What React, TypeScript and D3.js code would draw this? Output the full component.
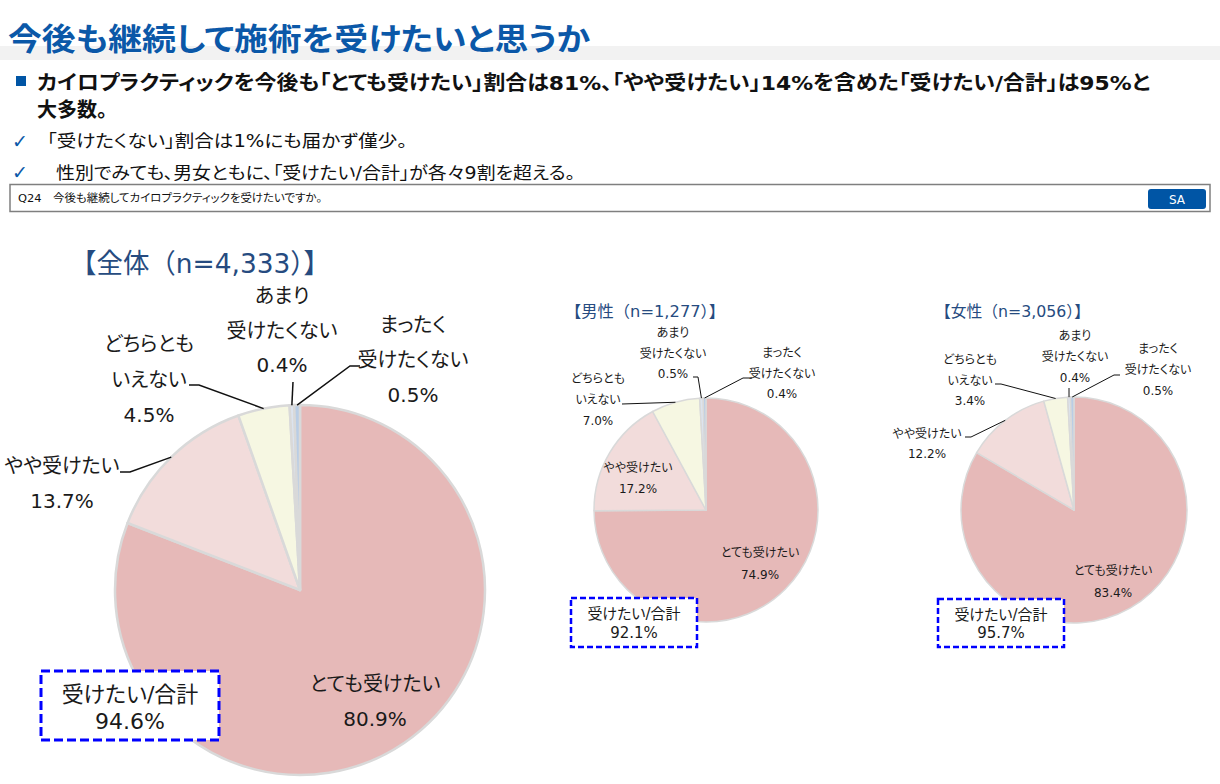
import React from "react";
import * as d3 from "d3";

// ---------- data ----------
const categories = ["とても受けたい", "やや受けたい", "どちらともいえない", "あまり受けたくない", "まったく受けたくない"];
const categoryLines = [["とても受けたい"], ["やや受けたい"], ["どちらとも", "いえない"], ["あまり", "受けたくない"], ["まったく", "受けたくない"]];
const totalValues = [80.9, 13.7, 4.5, 0.4, 0.5];
const maleValues = [74.9, 17.2, 7.0, 0.5, 0.4];
const femaleValues = [83.4, 12.2, 3.4, 0.4, 0.5];
const sumLabel = "受けたい/合計";
const sumValues = [94.6, 92.1, 95.7];
const groupTitles = ["【全体（n=4,333）】", "【男性（n=1,277）】", "【女性（n=3,056）】"];

const pageTitle = "今後も継続して施術を受けたいと思うか";
const headline1 = "カイロプラクティックを今後も「とても受けたい」割合は81%、「やや受けたい」14%を含めた「受けたい/合計」は95%と";
const headline2 = "大多数。";
const checks = ["「受けたくない」割合は1%にも届かず僅少。", "性別でみても、男女ともに、「受けたい/合計」が各々9割を超える。"];
const question = "Q24　今後も継続してカイロプラクティックを受けたいですか。";
const answerType = "SA";

// ---------- style / layout ----------
const sliceColors = ["#E6B9B8", "#F2DCDB", "#F6F7E2", "#DCE3EE", "#B9CDE5"];
const FONT = "'DejaVu Sans', 'Noto Sans CJK JP', sans-serif";
const JP = "'Noto Sans CJK JP', sans-serif";
const BLUE = "#0B58A8";
const TITLE_BLUE = "#264B80";

type LabelLayout = { x: number; y: number; dy: number; leader?: [number, number][] };
type PieLayout = {
  cx: number; cy: number; r: number; values: number[]; sliceStroke: number;
  title: { x: number; y: number; size: number; len: number };
  font: number; lineW: number;
  labels: LabelLayout[];
  box: { x: number; y: number; w: number; h: number; font: number; y1: number; y2: number; sw: number; dash: string };
};

const pies: PieLayout[] = [
  {
    cx: 300, cy: 590, r: 185, values: totalValues, sliceStroke: 2.5,
    title: { x: 70, y: 273, size: 27, len: 260 },
    font: 20, lineW: 1.5,
    labels: [
      { x: 375, y: 691, dy: 35 },
      { x: 62, y: 473, dy: 35, leader: [[120, 472], [130, 472]] },
      { x: 149, y: 351, dy: 35.5, leader: [[189, 385], [199, 385]] },
      { x: 282, y: 303, dy: 34.5, leader: [[293, 382]] },
      { x: 413, y: 332, dy: 35, leader: [[360, 366], [350, 366]] },
    ],
    box: { x: 41, y: 671, w: 178, h: 69, font: 22, y1: 702, y2: 729, sw: 3, dash: "9 4" },
  },
  {
    cx: 706, cy: 510, r: 112, values: maleValues, sliceStroke: 1.5,
    title: { x: 565, y: 317, size: 16, len: 160 },
    font: 12, lineW: 1,
    labels: [
      { x: 760, y: 557, dy: 22 },
      { x: 638, y: 472, dy: 21 },
      { x: 598, y: 383, dy: 21, leader: [[622, 404]] },
      { x: 673, y: 337, dy: 20.5, leader: [[693, 377], [698, 377]] },
      { x: 782, y: 357, dy: 20.5, leader: [[752, 378], [743, 378]] },
    ],
    box: { x: 571, y: 598, w: 126, h: 49, font: 15, y1: 619, y2: 638, sw: 2.5, dash: "6 3" },
  },
  {
    cx: 1074, cy: 510, r: 113, values: femaleValues, sliceStroke: 1.5,
    title: { x: 935, y: 317, size: 16, len: 155 },
    font: 12, lineW: 1,
    labels: [
      { x: 1113, y: 575, dy: 22 },
      { x: 927, y: 438, dy: 20, leader: [[965, 437], [971, 437]] },
      { x: 970, y: 364, dy: 20.5, leader: [[995, 384], [1001, 384]] },
      { x: 1075, y: 340, dy: 21, leader: [[1069, 388]] },
      { x: 1158, y: 353, dy: 21, leader: [[1120, 375], [1114, 375]] },
    ],
    box: { x: 938, y: 599, w: 126, h: 48, font: 15, y1: 620, y2: 638, sw: 2.5, dash: "6 3" },
  },
];

const fmt = d3.format(".1f");
const palt: React.CSSProperties = { fontFeatureSettings: '"palt"' };

function Pie({ p, idx }: { p: PieLayout; idx: number }) {
  const arcs = d3.pie<number>().sort(null).value((d) => d)(p.values);
  const arc = d3.arc<d3.PieArcDatum<number>>().innerRadius(0).outerRadius(p.r);
  return (
    <g>
      <text x={p.title.x} y={p.title.y} fontSize={p.title.size} fill={TITLE_BLUE} fontFamily={FONT}
        textLength={p.title.len} lengthAdjust="spacingAndGlyphs">{groupTitles[idx]}</text>
      <g transform={`translate(${p.cx},${p.cy})`}>
        {arcs.map((a, i) => (
          <path key={i} d={arc(a) || ""} fill={sliceColors[i]} stroke="#D9D9D9" strokeWidth={p.sliceStroke} strokeLinejoin="round" />
        ))}
      </g>
      {arcs.map((a, i) => {
        const L = p.labels[i];
        const mid = (a.startAngle + a.endAngle) / 2;
        const edge: [number, number] = [p.cx + p.r * Math.sin(mid), p.cy - p.r * Math.cos(mid)];
        const lines = [...categoryLines[i], fmt(p.values[i]) + "%"];
        return (
          <g key={i}>
            {L.leader && (
              <polyline points={[...L.leader, edge].map((q) => q.join(",")).join(" ")} fill="none" stroke="#111" strokeWidth={p.lineW} />
            )}
            {lines.map((t, j) => (
              <text key={j} x={L.x} y={L.y + j * L.dy} textAnchor="middle" fontSize={p.font} fill="#1a1a1a" fontFamily={FONT} style={palt}>{t}</text>
            ))}
          </g>
        );
      })}
      <rect x={p.box.x} y={p.box.y} width={p.box.w} height={p.box.h} fill="#fff" stroke="#0000FF" strokeWidth={p.box.sw} strokeDasharray={p.box.dash} />
      <text x={p.box.x + p.box.w / 2} y={p.box.y1} textAnchor="middle" fontSize={p.box.font} fill="#1a1a1a" fontFamily={FONT} style={palt}>{sumLabel}</text>
      <text x={p.box.x + p.box.w / 2} y={p.box.y2} textAnchor="middle" fontSize={p.box.font} fill="#1a1a1a" fontFamily={FONT}>{fmt(sumValues[idx]) + "%"}</text>
    </g>
  );
}

export default function App() {
  return (
    <svg width={1220} height={784} style={{ position: "absolute", left: 0, top: 0, background: "#fff" }}>
      <rect x={0} y={0} width={1220} height={784} fill="#fff" />
      {/* header */}
      <rect x={0} y={46} width={1220} height={14} fill="#F2F2F2" />
      <text x={8} y={50} fontSize={31} fontWeight="bold" fill={BLUE} fontFamily={JP} style={palt}
        textLength={582} lengthAdjust="spacingAndGlyphs" stroke="#fff" strokeWidth={0.6} paintOrder="stroke">{pageTitle}</text>
      <rect x={16} y={76} width={10} height={10} fill="#0055A5" />
      <text x={37} y={90} fontSize={20} fontWeight="bold" fill="#111" fontFamily={FONT} style={palt}
        textLength={1113} lengthAdjust="spacingAndGlyphs">{headline1}</text>
      <text x={37} y={117} fontSize={20} fontWeight="bold" fill="#111" fontFamily={FONT} style={palt}>{headline2}</text>
      {checks.map((c, i) => (
        <g key={i}>
          <text x={12} y={i === 0 ? 148 : 179} fontSize={19} fill={BLUE} fontFamily={FONT}>✓</text>
          <text x={i === 0 ? 47 : 56} y={i === 0 ? 147 : 179} fontSize={17} fill="#111" fontFamily={FONT} style={palt}
            textLength={i === 0 ? 360 : 519} lengthAdjust="spacingAndGlyphs">{c}</text>
        </g>
      ))}
      <rect x={10} y={184.5} width={1200} height={27} fill="#fff" stroke="#7F7F7F" strokeWidth={1.5} />
      <text x={18} y={202} fontSize={11} fill="#111" fontFamily={FONT} style={palt}
        textLength={304} lengthAdjust="spacingAndGlyphs">{question}</text>
      <rect x={1148} y={189} width={58} height={20} rx={3} fill="#0055A5" />
      <text x={1177} y={203.5} textAnchor="middle" fontSize={12} fill="#fff" fontFamily={FONT}>{answerType}</text>
      {pies.map((p, i) => (
        <Pie key={i} p={p} idx={i} />
      ))}
    </svg>
  );
}
